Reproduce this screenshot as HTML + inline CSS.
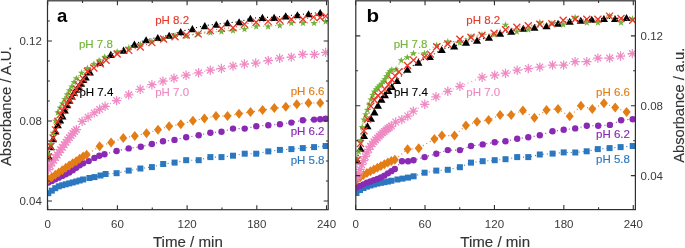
<!DOCTYPE html>
<html><head><meta charset="utf-8"><style>
html,body{margin:0;padding:0;background:#fff;}
body{width:685px;height:248px;overflow:hidden;}
svg{display:block;will-change:transform;font-family:"Liberation Sans",sans-serif;}
text{stroke:currentColor;stroke-width:0.15px;}
</style></head><body>
<svg width="685" height="248" viewBox="0 0 685 248">
<defs><clipPath id="cl"><rect x="47.5" y="0.8" width="280.7" height="208.89999999999998"/></clipPath><clipPath id="cr"><rect x="355.8" y="0.8" width="279.59999999999997" height="208.79999999999998"/></clipPath></defs>
<g clip-path="url(#cl)"><path d="M48.30 193.20L51.79 190.65L55.27 188.19L58.76 186.34L62.24 185.24L65.73 184.30L69.21 183.40L72.70 182.49L76.18 181.52L79.67 180.52L83.15 179.48L89.40 178.00L94.50 177.10L100.50 175.50L105.60 174.00L116.60 173.20L128.70 170.60L140.40 168.50L151.90 167.10L163.20 164.00L174.60 162.60L186.20 160.20L198.70 160.20L210.40 157.10L221.50 157.10L233.00 155.70L244.70 153.70L256.20 153.70L268.30 151.40L279.90 149.90L291.40 149.10L302.80 148.10L314.10 147.10L325.60 146.00" fill="none" stroke="#2b78c0" stroke-width="1.1" stroke-dasharray="1 3" stroke-linecap="butt"/>
<g fill="#2b78c0"><rect x="45.30" y="190.20" width="6.00" height="6.00"/><rect x="48.79" y="187.65" width="6.00" height="6.00"/><rect x="52.27" y="185.19" width="6.00" height="6.00"/><rect x="55.76" y="183.34" width="6.00" height="6.00"/><rect x="59.24" y="182.24" width="6.00" height="6.00"/><rect x="62.73" y="181.30" width="6.00" height="6.00"/><rect x="66.21" y="180.40" width="6.00" height="6.00"/><rect x="69.70" y="179.49" width="6.00" height="6.00"/><rect x="73.18" y="178.52" width="6.00" height="6.00"/><rect x="76.67" y="177.52" width="6.00" height="6.00"/><rect x="80.15" y="176.48" width="6.00" height="6.00"/><rect x="86.40" y="175.00" width="6.00" height="6.00"/><rect x="91.50" y="174.10" width="6.00" height="6.00"/><rect x="97.50" y="172.50" width="6.00" height="6.00"/><rect x="102.60" y="171.00" width="6.00" height="6.00"/><rect x="113.60" y="170.20" width="6.00" height="6.00"/><rect x="125.70" y="167.60" width="6.00" height="6.00"/><rect x="137.40" y="165.50" width="6.00" height="6.00"/><rect x="148.90" y="164.10" width="6.00" height="6.00"/><rect x="160.20" y="161.00" width="6.00" height="6.00"/><rect x="171.60" y="159.60" width="6.00" height="6.00"/><rect x="183.20" y="157.20" width="6.00" height="6.00"/><rect x="195.70" y="157.20" width="6.00" height="6.00"/><rect x="207.40" y="154.10" width="6.00" height="6.00"/><rect x="218.50" y="154.10" width="6.00" height="6.00"/><rect x="230.00" y="152.70" width="6.00" height="6.00"/><rect x="241.70" y="150.70" width="6.00" height="6.00"/><rect x="253.20" y="150.70" width="6.00" height="6.00"/><rect x="265.30" y="148.40" width="6.00" height="6.00"/><rect x="276.90" y="146.90" width="6.00" height="6.00"/><rect x="288.40" y="146.10" width="6.00" height="6.00"/><rect x="299.80" y="145.10" width="6.00" height="6.00"/><rect x="311.10" y="144.10" width="6.00" height="6.00"/><rect x="322.60" y="143.00" width="6.00" height="6.00"/></g>
<path d="M48.30 182.50L51.79 180.98L55.27 179.37L58.76 177.64L62.24 175.88L65.73 174.21L69.21 172.45L72.70 170.26L76.18 167.76L79.67 165.36L83.15 163.23L88.70 161.10L94.40 157.90L99.30 155.80L104.50 154.20L116.60 151.00L128.70 148.40L140.80 146.80L151.90 144.00L163.00 141.30L174.50 139.90L186.20 137.30L198.70 135.30L210.40 132.70L221.50 131.70L233.00 128.60L244.70 128.60L256.30 126.20L268.30 125.20L279.90 124.20L291.40 122.60L302.80 120.20L314.10 119.60L320.20 119.20L325.60 118.80" fill="none" stroke="#8a2ab4" stroke-width="1.1" stroke-dasharray="1 3" stroke-linecap="butt"/>
<g fill="#8a2ab4"><circle cx="48.30" cy="182.50" r="3.2"/><circle cx="51.79" cy="180.98" r="3.2"/><circle cx="55.27" cy="179.37" r="3.2"/><circle cx="58.76" cy="177.64" r="3.2"/><circle cx="62.24" cy="175.88" r="3.2"/><circle cx="65.73" cy="174.21" r="3.2"/><circle cx="69.21" cy="172.45" r="3.2"/><circle cx="72.70" cy="170.26" r="3.2"/><circle cx="76.18" cy="167.76" r="3.2"/><circle cx="79.67" cy="165.36" r="3.2"/><circle cx="83.15" cy="163.23" r="3.2"/><circle cx="88.70" cy="161.10" r="3.2"/><circle cx="94.40" cy="157.90" r="3.2"/><circle cx="99.30" cy="155.80" r="3.2"/><circle cx="104.50" cy="154.20" r="3.2"/><circle cx="116.60" cy="151.00" r="3.2"/><circle cx="128.70" cy="148.40" r="3.2"/><circle cx="140.80" cy="146.80" r="3.2"/><circle cx="151.90" cy="144.00" r="3.2"/><circle cx="163.00" cy="141.30" r="3.2"/><circle cx="174.50" cy="139.90" r="3.2"/><circle cx="186.20" cy="137.30" r="3.2"/><circle cx="198.70" cy="135.30" r="3.2"/><circle cx="210.40" cy="132.70" r="3.2"/><circle cx="221.50" cy="131.70" r="3.2"/><circle cx="233.00" cy="128.60" r="3.2"/><circle cx="244.70" cy="128.60" r="3.2"/><circle cx="256.30" cy="126.20" r="3.2"/><circle cx="268.30" cy="125.20" r="3.2"/><circle cx="279.90" cy="124.20" r="3.2"/><circle cx="291.40" cy="122.60" r="3.2"/><circle cx="302.80" cy="120.20" r="3.2"/><circle cx="314.10" cy="119.60" r="3.2"/><circle cx="320.20" cy="119.20" r="3.2"/><circle cx="325.60" cy="118.80" r="3.2"/></g>
<path d="M48.30 179.30L51.79 177.14L55.27 174.84L58.76 172.50L62.24 170.17L65.73 167.84L69.21 165.51L72.70 163.33L76.18 161.18L79.67 158.81L83.15 156.62L86.64 154.69L99.60 146.30L111.10 142.50L123.30 137.90L134.80 135.90L146.50 133.30L158.00 129.80L169.10 126.20L180.80 124.20L192.90 120.80L204.40 118.50L216.00 116.10L227.50 116.10L239.00 113.70L250.50 112.10L262.60 110.10L274.30 108.10L285.80 106.80L296.80 104.20L308.50 103.00L320.20 103.00" fill="none" stroke="#e47d16" stroke-width="1.1" stroke-dasharray="1 3" stroke-linecap="butt"/>
<g fill="#e47d16"><path d="M48.30 174.30L52.30 179.30L48.30 184.30L44.30 179.30Z"/><path d="M51.79 172.14L55.79 177.14L51.79 182.14L47.79 177.14Z"/><path d="M55.27 169.84L59.27 174.84L55.27 179.84L51.27 174.84Z"/><path d="M58.76 167.50L62.76 172.50L58.76 177.50L54.76 172.50Z"/><path d="M62.24 165.17L66.24 170.17L62.24 175.17L58.24 170.17Z"/><path d="M65.73 162.84L69.73 167.84L65.73 172.84L61.73 167.84Z"/><path d="M69.21 160.51L73.21 165.51L69.21 170.51L65.21 165.51Z"/><path d="M72.70 158.33L76.70 163.33L72.70 168.33L68.70 163.33Z"/><path d="M76.18 156.18L80.18 161.18L76.18 166.18L72.18 161.18Z"/><path d="M79.67 153.81L83.67 158.81L79.67 163.81L75.67 158.81Z"/><path d="M83.15 151.62L87.15 156.62L83.15 161.62L79.15 156.62Z"/><path d="M86.64 149.69L90.64 154.69L86.64 159.69L82.64 154.69Z"/><path d="M99.60 141.30L103.60 146.30L99.60 151.30L95.60 146.30Z"/><path d="M111.10 137.50L115.10 142.50L111.10 147.50L107.10 142.50Z"/><path d="M123.30 132.90L127.30 137.90L123.30 142.90L119.30 137.90Z"/><path d="M134.80 130.90L138.80 135.90L134.80 140.90L130.80 135.90Z"/><path d="M146.50 128.30L150.50 133.30L146.50 138.30L142.50 133.30Z"/><path d="M158.00 124.80L162.00 129.80L158.00 134.80L154.00 129.80Z"/><path d="M169.10 121.20L173.10 126.20L169.10 131.20L165.10 126.20Z"/><path d="M180.80 119.20L184.80 124.20L180.80 129.20L176.80 124.20Z"/><path d="M192.90 115.80L196.90 120.80L192.90 125.80L188.90 120.80Z"/><path d="M204.40 113.50L208.40 118.50L204.40 123.50L200.40 118.50Z"/><path d="M216.00 111.10L220.00 116.10L216.00 121.10L212.00 116.10Z"/><path d="M227.50 111.10L231.50 116.10L227.50 121.10L223.50 116.10Z"/><path d="M239.00 108.70L243.00 113.70L239.00 118.70L235.00 113.70Z"/><path d="M250.50 107.10L254.50 112.10L250.50 117.10L246.50 112.10Z"/><path d="M262.60 105.10L266.60 110.10L262.60 115.10L258.60 110.10Z"/><path d="M274.30 103.10L278.30 108.10L274.30 113.10L270.30 108.10Z"/><path d="M285.80 101.80L289.80 106.80L285.80 111.80L281.80 106.80Z"/><path d="M296.80 99.20L300.80 104.20L296.80 109.20L292.80 104.20Z"/><path d="M308.50 98.00L312.50 103.00L308.50 108.00L304.50 103.00Z"/><path d="M320.20 98.00L324.20 103.00L320.20 108.00L316.20 103.00Z"/></g>
<path d="M48.50 169.50L50.24 165.90L51.99 162.84L53.73 160.17L55.47 157.52L57.21 154.90L58.96 152.33L60.70 149.81L62.44 147.31L64.18 144.76L65.93 142.19L67.67 139.78L69.41 137.58L71.15 135.49L72.90 133.46L74.64 131.48L76.38 129.60L82.10 121.40L88.10 117.20L94.20 112.90L99.60 109.30L105.10 106.30L116.60 100.60L128.70 94.80L140.20 89.30L151.90 84.70L163.00 81.20L174.00 78.20L186.10 75.20L198.60 72.80L210.30 70.20L221.40 68.50L233.00 66.10L244.40 64.00L255.70 63.00L268.30 60.60L279.60 58.20L291.30 57.10L302.70 54.30L314.40 54.40L325.60 52.40" fill="none" stroke="#ef8ac3" stroke-width="1.1" stroke-dasharray="1 3" stroke-linecap="butt"/>
<g fill="none" stroke="#ef8ac3" stroke-width="1.25"><path d="M43.80 169.50H53.20M48.50 164.80V174.20M45.18 166.18L51.82 172.82M45.18 172.82L51.82 166.18"/><path d="M45.54 165.90H54.94M50.24 161.20V170.60M46.92 162.58L53.57 169.23M46.92 169.23L53.57 162.58"/><path d="M47.29 162.84H56.69M51.99 158.14V167.54M48.66 159.52L55.31 166.17M48.66 166.17L55.31 159.52"/><path d="M49.03 160.17H58.43M53.73 155.47V164.87M50.40 156.85L57.05 163.49M50.40 163.49L57.05 156.85"/><path d="M50.77 157.52H60.17M55.47 152.82V162.22M52.15 154.20L58.79 160.84M52.15 160.84L58.79 154.20"/><path d="M52.51 154.90H61.91M57.21 150.20V159.60M53.89 151.58L60.54 158.23M53.89 158.23L60.54 151.58"/><path d="M54.26 152.33H63.66M58.96 147.63V157.03M55.63 149.01L62.28 155.66M55.63 155.66L62.28 149.01"/><path d="M56.00 149.81H65.40M60.70 145.11V154.51M57.37 146.49L64.02 153.13M57.37 153.13L64.02 146.49"/><path d="M57.74 147.31H67.14M62.44 142.61V152.01M59.12 143.98L65.76 150.63M59.12 150.63L65.76 143.98"/><path d="M59.48 144.76H68.88M64.18 140.06V149.46M60.86 141.44L67.51 148.09M60.86 148.09L67.51 141.44"/><path d="M61.23 142.19H70.63M65.93 137.49V146.89M62.60 138.87L69.25 145.52M62.60 145.52L69.25 138.87"/><path d="M62.97 139.78H72.37M67.67 135.08V144.48M64.34 136.46L70.99 143.10M64.34 143.10L70.99 136.46"/><path d="M64.71 137.58H74.11M69.41 132.88V142.28M66.09 134.25L72.73 140.90M66.09 140.90L72.73 134.25"/><path d="M66.45 135.49H75.85M71.15 130.79V140.19M67.83 132.17L74.48 138.82M67.83 138.82L74.48 132.17"/><path d="M68.20 133.46H77.60M72.90 128.76V138.16M69.57 130.13L76.22 136.78M69.57 136.78L76.22 130.13"/><path d="M69.94 131.48H79.34M74.64 126.78V136.18M71.31 128.15L77.96 134.80M71.31 134.80L77.96 128.15"/><path d="M71.68 129.60H81.08M76.38 124.90V134.30M73.06 126.28L79.70 132.92M73.06 132.92L79.70 126.28"/><path d="M77.40 121.40H86.80M82.10 116.70V126.10M78.78 118.08L85.42 124.72M78.78 124.72L85.42 118.08"/><path d="M83.40 117.20H92.80M88.10 112.50V121.90M84.78 113.88L91.42 120.52M84.78 120.52L91.42 113.88"/><path d="M89.50 112.90H98.90M94.20 108.20V117.60M90.88 109.58L97.52 116.22M90.88 116.22L97.52 109.58"/><path d="M94.90 109.30H104.30M99.60 104.60V114.00M96.28 105.98L102.92 112.62M96.28 112.62L102.92 105.98"/><path d="M100.40 106.30H109.80M105.10 101.60V111.00M101.78 102.98L108.42 109.62M101.78 109.62L108.42 102.98"/><path d="M111.90 100.60H121.30M116.60 95.90V105.30M113.28 97.28L119.92 103.92M113.28 103.92L119.92 97.28"/><path d="M124.00 94.80H133.40M128.70 90.10V99.50M125.38 91.48L132.02 98.12M125.38 98.12L132.02 91.48"/><path d="M135.50 89.30H144.90M140.20 84.60V94.00M136.88 85.98L143.52 92.62M136.88 92.62L143.52 85.98"/><path d="M147.20 84.70H156.60M151.90 80.00V89.40M148.58 81.38L155.22 88.02M148.58 88.02L155.22 81.38"/><path d="M158.30 81.20H167.70M163.00 76.50V85.90M159.68 77.88L166.32 84.52M159.68 84.52L166.32 77.88"/><path d="M169.30 78.20H178.70M174.00 73.50V82.90M170.68 74.88L177.32 81.52M170.68 81.52L177.32 74.88"/><path d="M181.40 75.20H190.80M186.10 70.50V79.90M182.78 71.88L189.42 78.52M182.78 78.52L189.42 71.88"/><path d="M193.90 72.80H203.30M198.60 68.10V77.50M195.28 69.48L201.92 76.12M195.28 76.12L201.92 69.48"/><path d="M205.60 70.20H215.00M210.30 65.50V74.90M206.98 66.88L213.62 73.52M206.98 73.52L213.62 66.88"/><path d="M216.70 68.50H226.10M221.40 63.80V73.20M218.08 65.18L224.72 71.82M218.08 71.82L224.72 65.18"/><path d="M228.30 66.10H237.70M233.00 61.40V70.80M229.68 62.78L236.32 69.42M229.68 69.42L236.32 62.78"/><path d="M239.70 64.00H249.10M244.40 59.30V68.70M241.08 60.68L247.72 67.32M241.08 67.32L247.72 60.68"/><path d="M251.00 63.00H260.40M255.70 58.30V67.70M252.38 59.68L259.02 66.32M252.38 66.32L259.02 59.68"/><path d="M263.60 60.60H273.00M268.30 55.90V65.30M264.98 57.28L271.62 63.92M264.98 63.92L271.62 57.28"/><path d="M274.90 58.20H284.30M279.60 53.50V62.90M276.28 54.88L282.92 61.52M276.28 61.52L282.92 54.88"/><path d="M286.60 57.10H296.00M291.30 52.40V61.80M287.98 53.78L294.62 60.42M287.98 60.42L294.62 53.78"/><path d="M298.00 54.30H307.40M302.70 49.60V59.00M299.38 50.98L306.02 57.62M299.38 57.62L306.02 50.98"/><path d="M309.70 54.40H319.10M314.40 49.70V59.10M311.08 51.08L317.72 57.72M311.08 57.72L317.72 51.08"/><path d="M320.90 52.40H330.30M325.60 47.70V57.10M322.28 49.08L328.92 55.72M322.28 55.72L328.92 49.08"/></g>
<path d="M48.50 156.00L50.82 146.79L53.15 138.58L55.47 130.98L57.79 124.73L60.12 119.87L62.44 115.92L64.76 110.01L67.09 104.77L69.41 100.23L71.73 96.07L74.06 92.38L76.38 89.15L78.70 86.48L81.03 83.12L83.35 79.55L85.67 76.93L89.80 71.90L99.70 62.50L110.80 54.40L123.60 50.10L134.40 44.10L146.10 39.70L157.80 37.50L169.20 35.30L180.70 31.60L192.40 28.60L204.80 25.60L216.30 24.20L227.40 22.80L239.10 21.80L250.40 18.30L262.40 17.40L274.10 17.40L285.70 15.90L297.40 14.80L308.50 13.70L320.20 12.50" fill="none" stroke="#000000" stroke-width="1.1" stroke-dasharray="1 3" stroke-linecap="butt"/>
<g fill="#000000"><path d="M48.50 152.45L52.60 159.55L44.40 159.55Z"/><path d="M50.82 143.24L54.92 150.34L46.72 150.34Z"/><path d="M53.15 135.03L57.25 142.13L49.05 142.13Z"/><path d="M55.47 127.43L59.57 134.53L51.37 134.53Z"/><path d="M57.79 121.18L61.89 128.28L53.69 128.28Z"/><path d="M60.12 116.32L64.22 123.42L56.02 123.42Z"/><path d="M62.44 112.37L66.54 119.47L58.34 119.47Z"/><path d="M64.76 106.46L68.86 113.56L60.66 113.56Z"/><path d="M67.09 101.22L71.19 108.32L62.99 108.32Z"/><path d="M69.41 96.68L73.51 103.78L65.31 103.78Z"/><path d="M71.73 92.52L75.83 99.62L67.63 99.62Z"/><path d="M74.06 88.83L78.16 95.93L69.96 95.93Z"/><path d="M76.38 85.60L80.48 92.70L72.28 92.70Z"/><path d="M78.70 82.93L82.80 90.03L74.60 90.03Z"/><path d="M81.03 79.57L85.13 86.67L76.93 86.67Z"/><path d="M83.35 76.00L87.45 83.10L79.25 83.10Z"/><path d="M85.67 73.38L89.77 80.48L81.57 80.48Z"/><path d="M89.80 68.35L93.90 75.45L85.70 75.45Z"/><path d="M99.70 58.95L103.80 66.05L95.60 66.05Z"/><path d="M110.80 50.85L114.90 57.95L106.70 57.95Z"/><path d="M123.60 46.55L127.70 53.65L119.50 53.65Z"/><path d="M134.40 40.55L138.50 47.65L130.30 47.65Z"/><path d="M146.10 36.15L150.20 43.25L142.00 43.25Z"/><path d="M157.80 33.95L161.90 41.05L153.70 41.05Z"/><path d="M169.20 31.75L173.30 38.85L165.10 38.85Z"/><path d="M180.70 28.05L184.80 35.15L176.60 35.15Z"/><path d="M192.40 25.05L196.50 32.15L188.30 32.15Z"/><path d="M204.80 22.05L208.90 29.15L200.70 29.15Z"/><path d="M216.30 20.65L220.40 27.75L212.20 27.75Z"/><path d="M227.40 19.25L231.50 26.35L223.30 26.35Z"/><path d="M239.10 18.25L243.20 25.35L235.00 25.35Z"/><path d="M250.40 14.75L254.50 21.85L246.30 21.85Z"/><path d="M262.40 13.85L266.50 20.95L258.30 20.95Z"/><path d="M274.10 13.85L278.20 20.95L270.00 20.95Z"/><path d="M285.70 12.35L289.80 19.45L281.60 19.45Z"/><path d="M297.40 11.25L301.50 18.35L293.30 18.35Z"/><path d="M308.50 10.15L312.60 17.25L304.40 17.25Z"/><path d="M320.20 8.95L324.30 16.05L316.10 16.05Z"/></g>
<path d="M48.50 154.00L50.82 143.83L53.15 132.62L55.47 120.45L57.79 112.21L60.12 107.46L62.44 103.23L64.76 98.90L67.09 94.21L69.41 90.19L71.73 86.39L74.06 81.90L76.38 78.10L81.60 72.50L87.40 67.80L93.90 63.70L99.10 60.20L104.70 56.70L117.10 51.40L128.80 47.50L140.30 44.10L151.90 41.20L163.60 38.70L175.00 35.30L186.20 35.80L198.20 33.80L210.30 32.30L221.40 31.30L233.00 30.20L244.50 28.80L256.20 26.20L268.10 26.20L279.80 25.20L291.30 22.80L303.00 22.80L314.10 22.80L325.60 21.20" fill="none" stroke="#72b43a" stroke-width="1.1" stroke-dasharray="1 3" stroke-linecap="butt"/>
<g fill="#72b43a"><path d="M48.50 150.60L49.41 153.15L52.11 153.23L49.97 154.88L50.73 157.47L48.50 155.95L46.27 157.47L47.03 154.88L44.89 153.23L47.59 153.15Z"/><path d="M50.82 140.43L51.73 142.98L54.44 143.06L52.30 144.71L53.06 147.31L50.82 145.78L48.59 147.31L49.35 144.71L47.21 143.06L49.91 142.98Z"/><path d="M53.15 129.22L54.06 131.77L56.76 131.85L54.62 133.50L55.38 136.10L53.15 134.57L50.91 136.10L51.67 133.50L49.53 131.85L52.24 131.77Z"/><path d="M55.47 117.05L56.38 119.60L59.08 119.68L56.94 121.33L57.70 123.92L55.47 122.40L53.24 123.92L54.00 121.33L51.86 119.68L54.56 119.60Z"/><path d="M57.79 108.81L58.70 111.35L61.41 111.43L59.27 113.09L60.03 115.68L57.79 114.16L55.56 115.68L56.32 113.09L54.18 111.43L56.88 111.35Z"/><path d="M60.12 104.06L61.03 106.61L63.73 106.69L61.59 108.34L62.35 110.94L60.12 109.41L57.88 110.94L58.64 108.34L56.50 106.69L59.21 106.61Z"/><path d="M62.44 99.83L63.35 102.37L66.05 102.45L63.91 104.11L64.67 106.70L62.44 105.18L60.21 106.70L60.97 104.11L58.83 102.45L61.53 102.37Z"/><path d="M64.76 95.50L65.67 98.05L68.38 98.13L66.24 99.78L67.00 102.38L64.76 100.85L62.53 102.38L63.29 99.78L61.15 98.13L63.85 98.05Z"/><path d="M67.09 90.81L68.00 93.36L70.70 93.44L68.56 95.09L69.32 97.68L67.09 96.16L64.85 97.68L65.61 95.09L63.47 93.44L66.18 93.36Z"/><path d="M69.41 86.79L70.32 89.34L73.02 89.42L70.88 91.07L71.64 93.67L69.41 92.14L67.18 93.67L67.94 91.07L65.80 89.42L68.50 89.34Z"/><path d="M71.73 82.99L72.65 85.54L75.35 85.62L73.21 87.27L73.97 89.87L71.73 88.34L69.50 89.87L70.26 87.27L68.12 85.62L70.82 85.54Z"/><path d="M74.06 78.50L74.97 81.04L77.67 81.12L75.53 82.78L76.29 85.37L74.06 83.85L71.82 85.37L72.58 82.78L70.44 81.12L73.15 81.04Z"/><path d="M76.38 74.70L77.29 77.25L79.99 77.32L77.85 78.98L78.61 81.57L76.38 80.05L74.15 81.57L74.91 78.98L72.77 77.32L75.47 77.25Z"/><path d="M81.60 69.10L82.51 71.65L85.21 71.73L83.07 73.38L83.83 75.97L81.60 74.45L79.37 75.97L80.13 73.38L77.99 71.73L80.69 71.65Z"/><path d="M87.40 64.40L88.31 66.95L91.01 67.03L88.87 68.68L89.63 71.27L87.40 69.75L85.17 71.27L85.93 68.68L83.79 67.03L86.49 66.95Z"/><path d="M93.90 60.30L94.81 62.85L97.51 62.93L95.37 64.58L96.13 67.17L93.90 65.65L91.67 67.17L92.43 64.58L90.29 62.93L92.99 62.85Z"/><path d="M99.10 56.80L100.01 59.35L102.71 59.43L100.57 61.08L101.33 63.67L99.10 62.15L96.87 63.67L97.63 61.08L95.49 59.43L98.19 59.35Z"/><path d="M104.70 53.30L105.61 55.85L108.31 55.93L106.17 57.58L106.93 60.17L104.70 58.65L102.47 60.17L103.23 57.58L101.09 55.93L103.79 55.85Z"/><path d="M117.10 48.00L118.01 50.55L120.71 50.63L118.57 52.28L119.33 54.87L117.10 53.35L114.87 54.87L115.63 52.28L113.49 50.63L116.19 50.55Z"/><path d="M128.80 44.10L129.71 46.65L132.41 46.73L130.27 48.38L131.03 50.97L128.80 49.45L126.57 50.97L127.33 48.38L125.19 46.73L127.89 46.65Z"/><path d="M140.30 40.70L141.21 43.25L143.91 43.33L141.77 44.98L142.53 47.57L140.30 46.05L138.07 47.57L138.83 44.98L136.69 43.33L139.39 43.25Z"/><path d="M151.90 37.80L152.81 40.35L155.51 40.43L153.37 42.08L154.13 44.67L151.90 43.15L149.67 44.67L150.43 42.08L148.29 40.43L150.99 40.35Z"/><path d="M163.60 35.30L164.51 37.85L167.21 37.93L165.07 39.58L165.83 42.17L163.60 40.65L161.37 42.17L162.13 39.58L159.99 37.93L162.69 37.85Z"/><path d="M175.00 31.90L175.91 34.45L178.61 34.53L176.47 36.18L177.23 38.77L175.00 37.25L172.77 38.77L173.53 36.18L171.39 34.53L174.09 34.45Z"/><path d="M186.20 32.40L187.11 34.95L189.81 35.03L187.67 36.68L188.43 39.27L186.20 37.75L183.97 39.27L184.73 36.68L182.59 35.03L185.29 34.95Z"/><path d="M198.20 30.40L199.11 32.95L201.81 33.03L199.67 34.68L200.43 37.27L198.20 35.75L195.97 37.27L196.73 34.68L194.59 33.03L197.29 32.95Z"/><path d="M210.30 28.90L211.21 31.45L213.91 31.53L211.77 33.18L212.53 35.77L210.30 34.25L208.07 35.77L208.83 33.18L206.69 31.53L209.39 31.45Z"/><path d="M221.40 27.90L222.31 30.45L225.01 30.53L222.87 32.18L223.63 34.77L221.40 33.25L219.17 34.77L219.93 32.18L217.79 30.53L220.49 30.45Z"/><path d="M233.00 26.80L233.91 29.35L236.61 29.43L234.47 31.08L235.23 33.67L233.00 32.15L230.77 33.67L231.53 31.08L229.39 29.43L232.09 29.35Z"/><path d="M244.50 25.40L245.41 27.95L248.11 28.03L245.97 29.68L246.73 32.27L244.50 30.75L242.27 32.27L243.03 29.68L240.89 28.03L243.59 27.95Z"/><path d="M256.20 22.80L257.11 25.35L259.81 25.43L257.67 27.08L258.43 29.67L256.20 28.15L253.97 29.67L254.73 27.08L252.59 25.43L255.29 25.35Z"/><path d="M268.10 22.80L269.01 25.35L271.71 25.43L269.57 27.08L270.33 29.67L268.10 28.15L265.87 29.67L266.63 27.08L264.49 25.43L267.19 25.35Z"/><path d="M279.80 21.80L280.71 24.35L283.41 24.43L281.27 26.08L282.03 28.67L279.80 27.15L277.57 28.67L278.33 26.08L276.19 24.43L278.89 24.35Z"/><path d="M291.30 19.40L292.21 21.95L294.91 22.03L292.77 23.68L293.53 26.27L291.30 24.75L289.07 26.27L289.83 23.68L287.69 22.03L290.39 21.95Z"/><path d="M303.00 19.40L303.91 21.95L306.61 22.03L304.47 23.68L305.23 26.27L303.00 24.75L300.77 26.27L301.53 23.68L299.39 22.03L302.09 21.95Z"/><path d="M314.10 19.40L315.01 21.95L317.71 22.03L315.57 23.68L316.33 26.27L314.10 24.75L311.87 26.27L312.63 23.68L310.49 22.03L313.19 21.95Z"/><path d="M325.60 17.80L326.51 20.35L329.21 20.43L327.07 22.08L327.83 24.67L325.60 23.15L323.37 24.67L324.13 22.08L321.99 20.43L324.69 20.35Z"/></g>
<path d="M48.50 157.00L50.82 146.56L53.15 137.97L55.47 129.91L57.79 121.40L60.12 114.64L62.44 110.60L64.76 106.89L67.09 103.35L69.41 99.89L71.73 96.32L74.06 92.69L76.38 89.04L78.70 85.51L81.03 82.12L83.35 78.72L87.40 71.30L93.90 68.00L100.30 63.70L106.10 60.20L117.20 54.00L128.80 50.40L140.30 47.00L151.90 42.60L163.60 39.00L175.00 36.80L186.20 35.00L198.20 33.90L210.30 30.60L221.40 28.40L233.00 27.80L244.50 24.20L256.10 22.20L268.10 21.40L279.80 20.20L291.30 19.20L302.90 19.20L313.50 17.10L320.20 17.50L325.60 16.10" fill="none" stroke="#e8392a" stroke-width="1.1" stroke-dasharray="1 3" stroke-linecap="butt"/>
<g fill="none" stroke="#e8392a" stroke-width="1.3"><path d="M45.00 153.50L52.00 160.50M45.00 160.50L52.00 153.50"/><path d="M47.32 143.06L54.32 150.06M47.32 150.06L54.32 143.06"/><path d="M49.65 134.47L56.65 141.47M49.65 141.47L56.65 134.47"/><path d="M51.97 126.41L58.97 133.41M51.97 133.41L58.97 126.41"/><path d="M54.29 117.90L61.29 124.90M54.29 124.90L61.29 117.90"/><path d="M56.62 111.14L63.62 118.14M56.62 118.14L63.62 111.14"/><path d="M58.94 107.10L65.94 114.10M58.94 114.10L65.94 107.10"/><path d="M61.26 103.39L68.26 110.39M61.26 110.39L68.26 103.39"/><path d="M63.59 99.85L70.59 106.85M63.59 106.85L70.59 99.85"/><path d="M65.91 96.39L72.91 103.39M65.91 103.39L72.91 96.39"/><path d="M68.23 92.82L75.23 99.82M68.23 99.82L75.23 92.82"/><path d="M70.56 89.19L77.56 96.19M70.56 96.19L77.56 89.19"/><path d="M72.88 85.54L79.88 92.54M72.88 92.54L79.88 85.54"/><path d="M75.20 82.01L82.20 89.01M75.20 89.01L82.20 82.01"/><path d="M77.53 78.62L84.53 85.62M77.53 85.62L84.53 78.62"/><path d="M79.85 75.22L86.85 82.22M79.85 82.22L86.85 75.22"/><path d="M83.90 67.80L90.90 74.80M83.90 74.80L90.90 67.80"/><path d="M90.40 64.50L97.40 71.50M90.40 71.50L97.40 64.50"/><path d="M96.80 60.20L103.80 67.20M96.80 67.20L103.80 60.20"/><path d="M102.60 56.70L109.60 63.70M102.60 63.70L109.60 56.70"/><path d="M113.70 50.50L120.70 57.50M113.70 57.50L120.70 50.50"/><path d="M125.30 46.90L132.30 53.90M125.30 53.90L132.30 46.90"/><path d="M136.80 43.50L143.80 50.50M136.80 50.50L143.80 43.50"/><path d="M148.40 39.10L155.40 46.10M148.40 46.10L155.40 39.10"/><path d="M160.10 35.50L167.10 42.50M160.10 42.50L167.10 35.50"/><path d="M171.50 33.30L178.50 40.30M171.50 40.30L178.50 33.30"/><path d="M182.70 31.50L189.70 38.50M182.70 38.50L189.70 31.50"/><path d="M194.70 30.40L201.70 37.40M194.70 37.40L201.70 30.40"/><path d="M206.80 27.10L213.80 34.10M206.80 34.10L213.80 27.10"/><path d="M217.90 24.90L224.90 31.90M217.90 31.90L224.90 24.90"/><path d="M229.50 24.30L236.50 31.30M229.50 31.30L236.50 24.30"/><path d="M241.00 20.70L248.00 27.70M241.00 27.70L248.00 20.70"/><path d="M252.60 18.70L259.60 25.70M252.60 25.70L259.60 18.70"/><path d="M264.60 17.90L271.60 24.90M264.60 24.90L271.60 17.90"/><path d="M276.30 16.70L283.30 23.70M276.30 23.70L283.30 16.70"/><path d="M287.80 15.70L294.80 22.70M287.80 22.70L294.80 15.70"/><path d="M299.40 15.70L306.40 22.70M299.40 22.70L306.40 15.70"/><path d="M310.00 13.60L317.00 20.60M310.00 20.60L317.00 13.60"/><path d="M316.70 14.00L323.70 21.00M316.70 21.00L323.70 14.00"/><path d="M322.10 12.60L329.10 19.60M322.10 19.60L329.10 12.60"/></g></g>
<g clip-path="url(#cr)"><path d="M356.50 193.00L359.99 190.01L363.47 188.09L366.96 186.63L370.44 185.46L373.93 184.46L377.41 183.58L380.90 182.81L384.38 182.18L387.87 181.53L391.35 180.75L397.40 179.50L402.50 178.60L408.00 177.60L413.60 176.30L424.60 172.70L436.30 170.60L447.80 169.80L459.90 167.20L471.00 162.60L482.70 161.20L494.70 160.20L505.50 159.20L517.20 157.10L528.30 157.10L539.80 154.50L552.60 153.60L563.70 152.40L575.30 152.50L586.70 151.30L597.80 149.10L609.60 148.10L620.60 147.10L632.70 146.00" fill="none" stroke="#2b78c0" stroke-width="1.1" stroke-dasharray="1 3" stroke-linecap="butt"/>
<g fill="#2b78c0"><rect x="353.50" y="190.00" width="6.00" height="6.00"/><rect x="356.99" y="187.01" width="6.00" height="6.00"/><rect x="360.47" y="185.09" width="6.00" height="6.00"/><rect x="363.96" y="183.63" width="6.00" height="6.00"/><rect x="367.44" y="182.46" width="6.00" height="6.00"/><rect x="370.93" y="181.46" width="6.00" height="6.00"/><rect x="374.41" y="180.58" width="6.00" height="6.00"/><rect x="377.90" y="179.81" width="6.00" height="6.00"/><rect x="381.38" y="179.18" width="6.00" height="6.00"/><rect x="384.87" y="178.53" width="6.00" height="6.00"/><rect x="388.35" y="177.75" width="6.00" height="6.00"/><rect x="394.40" y="176.50" width="6.00" height="6.00"/><rect x="399.50" y="175.60" width="6.00" height="6.00"/><rect x="405.00" y="174.60" width="6.00" height="6.00"/><rect x="410.60" y="173.30" width="6.00" height="6.00"/><rect x="421.60" y="169.70" width="6.00" height="6.00"/><rect x="433.30" y="167.60" width="6.00" height="6.00"/><rect x="444.80" y="166.80" width="6.00" height="6.00"/><rect x="456.90" y="164.20" width="6.00" height="6.00"/><rect x="468.00" y="159.60" width="6.00" height="6.00"/><rect x="479.70" y="158.20" width="6.00" height="6.00"/><rect x="491.70" y="157.20" width="6.00" height="6.00"/><rect x="502.50" y="156.20" width="6.00" height="6.00"/><rect x="514.20" y="154.10" width="6.00" height="6.00"/><rect x="525.30" y="154.10" width="6.00" height="6.00"/><rect x="536.80" y="151.50" width="6.00" height="6.00"/><rect x="549.60" y="150.60" width="6.00" height="6.00"/><rect x="560.70" y="149.40" width="6.00" height="6.00"/><rect x="572.30" y="149.50" width="6.00" height="6.00"/><rect x="583.70" y="148.30" width="6.00" height="6.00"/><rect x="594.80" y="146.10" width="6.00" height="6.00"/><rect x="606.60" y="145.10" width="6.00" height="6.00"/><rect x="617.60" y="144.10" width="6.00" height="6.00"/><rect x="629.70" y="143.00" width="6.00" height="6.00"/></g>
<path d="M356.50 187.50L359.99 185.91L363.47 184.34L366.96 182.78L370.44 181.33L373.93 180.12L377.41 178.95L380.90 177.52L384.38 175.58L387.87 173.35L391.35 171.17L394.84 169.00L402.00 161.20L408.10 161.20L413.50 160.20L424.60 157.10L436.30 153.70L447.80 150.10L459.90 150.10L471.00 146.00L482.70 144.40L494.70 142.30L505.50 141.30L517.20 138.70L528.30 137.30L539.80 135.30L552.50 131.30L563.70 129.80L575.20 128.40L586.80 125.80L598.20 125.80L609.90 124.90L621.10 120.20L632.70 119.20" fill="none" stroke="#8a2ab4" stroke-width="1.1" stroke-dasharray="1 3" stroke-linecap="butt"/>
<g fill="#8a2ab4"><circle cx="356.50" cy="187.50" r="3.2"/><circle cx="359.99" cy="185.91" r="3.2"/><circle cx="363.47" cy="184.34" r="3.2"/><circle cx="366.96" cy="182.78" r="3.2"/><circle cx="370.44" cy="181.33" r="3.2"/><circle cx="373.93" cy="180.12" r="3.2"/><circle cx="377.41" cy="178.95" r="3.2"/><circle cx="380.90" cy="177.52" r="3.2"/><circle cx="384.38" cy="175.58" r="3.2"/><circle cx="387.87" cy="173.35" r="3.2"/><circle cx="391.35" cy="171.17" r="3.2"/><circle cx="394.84" cy="169.00" r="3.2"/><circle cx="402.00" cy="161.20" r="3.2"/><circle cx="408.10" cy="161.20" r="3.2"/><circle cx="413.50" cy="160.20" r="3.2"/><circle cx="424.60" cy="157.10" r="3.2"/><circle cx="436.30" cy="153.70" r="3.2"/><circle cx="447.80" cy="150.10" r="3.2"/><circle cx="459.90" cy="150.10" r="3.2"/><circle cx="471.00" cy="146.00" r="3.2"/><circle cx="482.70" cy="144.40" r="3.2"/><circle cx="494.70" cy="142.30" r="3.2"/><circle cx="505.50" cy="141.30" r="3.2"/><circle cx="517.20" cy="138.70" r="3.2"/><circle cx="528.30" cy="137.30" r="3.2"/><circle cx="539.80" cy="135.30" r="3.2"/><circle cx="552.50" cy="131.30" r="3.2"/><circle cx="563.70" cy="129.80" r="3.2"/><circle cx="575.20" cy="128.40" r="3.2"/><circle cx="586.80" cy="125.80" r="3.2"/><circle cx="598.20" cy="125.80" r="3.2"/><circle cx="609.90" cy="124.90" r="3.2"/><circle cx="621.10" cy="120.20" r="3.2"/><circle cx="632.70" cy="119.20" r="3.2"/></g>
<path d="M356.50 180.00L359.99 177.51L363.47 175.09L366.96 172.97L370.44 171.26L373.93 169.54L377.41 167.79L380.90 166.05L384.38 164.31L387.87 162.50L391.35 160.95L394.84 159.68L407.60 149.20L418.70 148.20L434.40 139.10L441.90 135.60L454.50 135.60L465.90 125.40L477.00 121.80L488.60 120.00L500.10 115.10L511.20 115.10L522.90 110.50L534.40 117.70L546.50 110.10L558.00 109.10L569.70 116.30L580.90 105.80L592.30 109.10L603.90 103.30L615.20 107.40L626.60 112.10" fill="none" stroke="#e47d16" stroke-width="1.1" stroke-dasharray="1 3" stroke-linecap="butt"/>
<g fill="#e47d16"><path d="M356.50 175.00L360.50 180.00L356.50 185.00L352.50 180.00Z"/><path d="M359.99 172.51L363.99 177.51L359.99 182.51L355.99 177.51Z"/><path d="M363.47 170.09L367.47 175.09L363.47 180.09L359.47 175.09Z"/><path d="M366.96 167.97L370.96 172.97L366.96 177.97L362.96 172.97Z"/><path d="M370.44 166.26L374.44 171.26L370.44 176.26L366.44 171.26Z"/><path d="M373.93 164.54L377.93 169.54L373.93 174.54L369.93 169.54Z"/><path d="M377.41 162.79L381.41 167.79L377.41 172.79L373.41 167.79Z"/><path d="M380.90 161.05L384.90 166.05L380.90 171.05L376.90 166.05Z"/><path d="M384.38 159.31L388.38 164.31L384.38 169.31L380.38 164.31Z"/><path d="M387.87 157.50L391.87 162.50L387.87 167.50L383.87 162.50Z"/><path d="M391.35 155.95L395.35 160.95L391.35 165.95L387.35 160.95Z"/><path d="M394.84 154.68L398.84 159.68L394.84 164.68L390.84 159.68Z"/><path d="M407.60 144.20L411.60 149.20L407.60 154.20L403.60 149.20Z"/><path d="M418.70 143.20L422.70 148.20L418.70 153.20L414.70 148.20Z"/><path d="M434.40 134.10L438.40 139.10L434.40 144.10L430.40 139.10Z"/><path d="M441.90 130.60L445.90 135.60L441.90 140.60L437.90 135.60Z"/><path d="M454.50 130.60L458.50 135.60L454.50 140.60L450.50 135.60Z"/><path d="M465.90 120.40L469.90 125.40L465.90 130.40L461.90 125.40Z"/><path d="M477.00 116.80L481.00 121.80L477.00 126.80L473.00 121.80Z"/><path d="M488.60 115.00L492.60 120.00L488.60 125.00L484.60 120.00Z"/><path d="M500.10 110.10L504.10 115.10L500.10 120.10L496.10 115.10Z"/><path d="M511.20 110.10L515.20 115.10L511.20 120.10L507.20 115.10Z"/><path d="M522.90 105.50L526.90 110.50L522.90 115.50L518.90 110.50Z"/><path d="M534.40 112.70L538.40 117.70L534.40 122.70L530.40 117.70Z"/><path d="M546.50 105.10L550.50 110.10L546.50 115.10L542.50 110.10Z"/><path d="M558.00 104.10L562.00 109.10L558.00 114.10L554.00 109.10Z"/><path d="M569.70 111.30L573.70 116.30L569.70 121.30L565.70 116.30Z"/><path d="M580.90 100.80L584.90 105.80L580.90 110.80L576.90 105.80Z"/><path d="M592.30 104.10L596.30 109.10L592.30 114.10L588.30 109.10Z"/><path d="M603.90 98.30L607.90 103.30L603.90 108.30L599.90 103.30Z"/><path d="M615.20 102.40L619.20 107.40L615.20 112.40L611.20 107.40Z"/><path d="M626.60 107.10L630.60 112.10L626.60 117.10L622.60 112.10Z"/></g>
<path d="M356.50 178.00L358.24 173.88L359.99 169.39L361.73 164.68L363.47 160.53L365.21 156.68L366.96 152.95L368.70 149.31L370.44 146.33L372.18 143.93L373.93 141.82L375.67 139.87L377.41 137.97L379.15 136.20L380.90 134.52L382.64 132.93L384.38 131.42L386.12 129.99L387.87 128.61L389.61 127.29L391.35 126.01L395.70 122.00L401.80 119.60L407.80 116.00L413.30 111.10L424.80 104.30L436.00 96.80L447.80 91.30L459.90 86.30L482.10 77.20L494.70 75.20L505.50 73.20L517.20 70.20L528.30 68.50L539.80 67.10L552.50 65.10L563.60 65.10L575.10 61.70L586.80 61.70L597.90 58.10L609.60 58.10L620.50 56.00L632.30 53.60" fill="none" stroke="#ef8ac3" stroke-width="1.1" stroke-dasharray="1 3" stroke-linecap="butt"/>
<g fill="none" stroke="#ef8ac3" stroke-width="1.25"><path d="M351.80 178.00H361.20M356.50 173.30V182.70M353.18 174.68L359.82 181.32M353.18 181.32L359.82 174.68"/><path d="M353.54 173.88H362.94M358.24 169.18V178.58M354.92 170.56L361.57 177.21M354.92 177.21L361.57 170.56"/><path d="M355.29 169.39H364.69M359.99 164.69V174.09M356.66 166.07L363.31 172.71M356.66 172.71L363.31 166.07"/><path d="M357.03 164.68H366.43M361.73 159.98V169.38M358.40 161.36L365.05 168.00M358.40 168.00L365.05 161.36"/><path d="M358.77 160.53H368.17M363.47 155.83V165.23M360.15 157.21L366.79 163.85M360.15 163.85L366.79 157.21"/><path d="M360.51 156.68H369.91M365.21 151.98V161.38M361.89 153.36L368.54 160.00M361.89 160.00L368.54 153.36"/><path d="M362.26 152.95H371.66M366.96 148.25V157.65M363.63 149.62L370.28 156.27M363.63 156.27L370.28 149.62"/><path d="M364.00 149.31H373.40M368.70 144.61V154.01M365.37 145.99L372.02 152.63M365.37 152.63L372.02 145.99"/><path d="M365.74 146.33H375.14M370.44 141.63V151.03M367.12 143.00L373.76 149.65M367.12 149.65L373.76 143.00"/><path d="M367.48 143.93H376.88M372.18 139.23V148.63M368.86 140.60L375.51 147.25M368.86 147.25L375.51 140.60"/><path d="M369.23 141.82H378.63M373.93 137.12V146.52M370.60 138.50L377.25 145.15M370.60 145.15L377.25 138.50"/><path d="M370.97 139.87H380.37M375.67 135.17V144.57M372.34 136.55L378.99 143.19M372.34 143.19L378.99 136.55"/><path d="M372.71 137.97H382.11M377.41 133.27V142.67M374.09 134.65L380.73 141.30M374.09 141.30L380.73 134.65"/><path d="M374.45 136.20H383.85M379.15 131.50V140.90M375.83 132.87L382.48 139.52M375.83 139.52L382.48 132.87"/><path d="M376.20 134.52H385.60M380.90 129.82V139.22M377.57 131.20L384.22 137.84M377.57 137.84L384.22 131.20"/><path d="M377.94 132.93H387.34M382.64 128.23V137.63M379.31 129.60L385.96 136.25M379.31 136.25L385.96 129.60"/><path d="M379.68 131.42H389.08M384.38 126.72V136.12M381.06 128.10L387.70 134.75M381.06 134.75L387.70 128.10"/><path d="M381.42 129.99H390.82M386.12 125.29V134.69M382.80 126.67L389.45 133.32M382.80 133.32L389.45 126.67"/><path d="M383.17 128.61H392.57M387.87 123.91V133.31M384.54 125.28L391.19 131.93M384.54 131.93L391.19 125.28"/><path d="M384.91 127.29H394.31M389.61 122.59V131.99M386.29 123.97L392.93 130.62M386.29 130.62L392.93 123.97"/><path d="M386.65 126.01H396.05M391.35 121.31V130.71M388.03 122.69L394.67 129.33M388.03 129.33L394.67 122.69"/><path d="M391.00 122.00H400.40M395.70 117.30V126.70M392.38 118.68L399.02 125.32M392.38 125.32L399.02 118.68"/><path d="M397.10 119.60H406.50M401.80 114.90V124.30M398.48 116.28L405.12 122.92M398.48 122.92L405.12 116.28"/><path d="M403.10 116.00H412.50M407.80 111.30V120.70M404.48 112.68L411.12 119.32M404.48 119.32L411.12 112.68"/><path d="M408.60 111.10H418.00M413.30 106.40V115.80M409.98 107.78L416.62 114.42M409.98 114.42L416.62 107.78"/><path d="M420.10 104.30H429.50M424.80 99.60V109.00M421.48 100.98L428.12 107.62M421.48 107.62L428.12 100.98"/><path d="M431.30 96.80H440.70M436.00 92.10V101.50M432.68 93.48L439.32 100.12M432.68 100.12L439.32 93.48"/><path d="M443.10 91.30H452.50M447.80 86.60V96.00M444.48 87.98L451.12 94.62M444.48 94.62L451.12 87.98"/><path d="M455.20 86.30H464.60M459.90 81.60V91.00M456.58 82.98L463.22 89.62M456.58 89.62L463.22 82.98"/><path d="M477.40 77.20H486.80M482.10 72.50V81.90M478.78 73.88L485.42 80.52M478.78 80.52L485.42 73.88"/><path d="M490.00 75.20H499.40M494.70 70.50V79.90M491.38 71.88L498.02 78.52M491.38 78.52L498.02 71.88"/><path d="M500.80 73.20H510.20M505.50 68.50V77.90M502.18 69.88L508.82 76.52M502.18 76.52L508.82 69.88"/><path d="M512.50 70.20H521.90M517.20 65.50V74.90M513.88 66.88L520.52 73.52M513.88 73.52L520.52 66.88"/><path d="M523.60 68.50H533.00M528.30 63.80V73.20M524.98 65.18L531.62 71.82M524.98 71.82L531.62 65.18"/><path d="M535.10 67.10H544.50M539.80 62.40V71.80M536.48 63.78L543.12 70.42M536.48 70.42L543.12 63.78"/><path d="M547.80 65.10H557.20M552.50 60.40V69.80M549.18 61.78L555.82 68.42M549.18 68.42L555.82 61.78"/><path d="M558.90 65.10H568.30M563.60 60.40V69.80M560.28 61.78L566.92 68.42M560.28 68.42L566.92 61.78"/><path d="M570.40 61.70H579.80M575.10 57.00V66.40M571.78 58.38L578.42 65.02M571.78 65.02L578.42 58.38"/><path d="M582.10 61.70H591.50M586.80 57.00V66.40M583.48 58.38L590.12 65.02M583.48 65.02L590.12 58.38"/><path d="M593.20 58.10H602.60M597.90 53.40V62.80M594.58 54.78L601.22 61.42M594.58 61.42L601.22 54.78"/><path d="M604.90 58.10H614.30M609.60 53.40V62.80M606.28 54.78L612.92 61.42M606.28 61.42L612.92 54.78"/><path d="M615.80 56.00H625.20M620.50 51.30V60.70M617.18 52.68L623.82 59.32M617.18 59.32L623.82 52.68"/><path d="M627.60 53.60H637.00M632.30 48.90V58.30M628.98 50.28L635.62 56.92M628.98 56.92L635.62 50.28"/></g>
<path d="M357.00 160.00L360.49 148.12L363.97 135.38L367.46 125.73L370.94 118.21L374.43 111.92L377.91 105.08L381.40 99.13L384.88 94.59L388.37 90.44L391.85 86.45L397.10 80.50L407.40 69.20L418.40 62.10L429.80 56.50L441.70 49.50L454.20 46.00L466.00 42.30L477.00 40.30L489.00 37.30L500.10 33.30L511.20 31.30L523.30 28.20L534.40 27.20L546.50 25.80L558.00 23.20L569.70 21.20L580.80 20.20L591.80 19.20L603.90 18.50L615.00 18.50L626.50 17.50" fill="none" stroke="#000000" stroke-width="1.1" stroke-dasharray="1 3" stroke-linecap="butt"/>
<g fill="#000000"><path d="M357.00 156.45L361.10 163.55L352.90 163.55Z"/><path d="M360.49 144.57L364.59 151.67L356.39 151.67Z"/><path d="M363.97 131.83L368.07 138.93L359.87 138.93Z"/><path d="M367.46 122.18L371.56 129.28L363.36 129.28Z"/><path d="M370.94 114.66L375.04 121.76L366.84 121.76Z"/><path d="M374.43 108.37L378.53 115.47L370.33 115.47Z"/><path d="M377.91 101.53L382.01 108.63L373.81 108.63Z"/><path d="M381.40 95.58L385.50 102.68L377.30 102.68Z"/><path d="M384.88 91.04L388.98 98.14L380.78 98.14Z"/><path d="M388.37 86.89L392.47 93.99L384.27 93.99Z"/><path d="M391.85 82.90L395.95 90.00L387.75 90.00Z"/><path d="M397.10 76.95L401.20 84.05L393.00 84.05Z"/><path d="M407.40 65.65L411.50 72.75L403.30 72.75Z"/><path d="M418.40 58.55L422.50 65.65L414.30 65.65Z"/><path d="M429.80 52.95L433.90 60.05L425.70 60.05Z"/><path d="M441.70 45.95L445.80 53.05L437.60 53.05Z"/><path d="M454.20 42.45L458.30 49.55L450.10 49.55Z"/><path d="M466.00 38.75L470.10 45.85L461.90 45.85Z"/><path d="M477.00 36.75L481.10 43.85L472.90 43.85Z"/><path d="M489.00 33.75L493.10 40.85L484.90 40.85Z"/><path d="M500.10 29.75L504.20 36.85L496.00 36.85Z"/><path d="M511.20 27.75L515.30 34.85L507.10 34.85Z"/><path d="M523.30 24.65L527.40 31.75L519.20 31.75Z"/><path d="M534.40 23.65L538.50 30.75L530.30 30.75Z"/><path d="M546.50 22.25L550.60 29.35L542.40 29.35Z"/><path d="M558.00 19.65L562.10 26.75L553.90 26.75Z"/><path d="M569.70 17.65L573.80 24.75L565.60 24.75Z"/><path d="M580.80 16.65L584.90 23.75L576.70 23.75Z"/><path d="M591.80 15.65L595.90 22.75L587.70 22.75Z"/><path d="M603.90 14.95L608.00 22.05L599.80 22.05Z"/><path d="M615.00 14.95L619.10 22.05L610.90 22.05Z"/><path d="M626.50 13.95L630.60 21.05L622.40 21.05Z"/></g>
<path d="M357.00 159.00L358.74 151.37L360.49 140.11L362.23 126.75L363.97 119.27L365.71 114.21L367.46 109.69L369.20 104.40L370.94 99.16L372.68 94.70L374.43 91.44L376.17 89.01L377.91 87.01L379.65 85.37L381.40 83.55L383.14 81.39L384.88 78.92L386.62 75.92L388.37 73.19L390.11 70.86L391.85 69.52L396.00 69.20L401.30 60.10L407.30 57.10L413.40 53.10L424.50 53.10L436.70 44.80L447.80 41.30L459.90 42.30L471.00 36.30L482.00 34.30L494.10 34.30L505.50 24.60L516.80 31.30L528.30 29.20L539.80 22.20L551.90 23.20L563.20 24.20L575.10 17.10L586.80 22.20L597.90 22.20L609.60 15.70L621.00 22.20L632.50 18.50" fill="none" stroke="#72b43a" stroke-width="1.1" stroke-dasharray="1 3" stroke-linecap="butt"/>
<g fill="#72b43a"><path d="M357.00 155.60L357.91 158.15L360.61 158.23L358.47 159.88L359.23 162.47L357.00 160.95L354.77 162.47L355.53 159.88L353.39 158.23L356.09 158.15Z"/><path d="M358.74 147.97L359.65 150.52L362.36 150.60L360.22 152.25L360.98 154.85L358.74 153.32L356.51 154.85L357.27 152.25L355.13 150.60L357.83 150.52Z"/><path d="M360.49 136.71L361.40 139.25L364.10 139.33L361.96 140.99L362.72 143.58L360.49 142.06L358.25 143.58L359.01 140.99L356.87 139.33L359.57 139.25Z"/><path d="M362.23 123.35L363.14 125.90L365.84 125.98L363.70 127.63L364.46 130.23L362.23 128.70L359.99 130.23L360.75 127.63L358.61 125.98L361.32 125.90Z"/><path d="M363.97 115.87L364.88 118.42L367.58 118.50L365.44 120.15L366.20 122.75L363.97 121.22L361.74 122.75L362.50 120.15L360.36 118.50L363.06 118.42Z"/><path d="M365.71 110.81L366.62 113.35L369.33 113.43L367.19 115.09L367.95 117.68L365.71 116.16L363.48 117.68L364.24 115.09L362.10 113.43L364.80 113.35Z"/><path d="M367.46 106.29L368.37 108.84L371.07 108.92L368.93 110.57L369.69 113.16L367.46 111.64L365.22 113.16L365.98 110.57L363.84 108.92L366.54 108.84Z"/><path d="M369.20 101.00L370.11 103.55L372.81 103.63L370.67 105.28L371.43 107.88L369.20 106.35L366.96 107.88L367.72 105.28L365.58 103.63L368.29 103.55Z"/><path d="M370.94 95.76L371.85 98.31L374.55 98.39L372.41 100.04L373.17 102.63L370.94 101.11L368.71 102.63L369.47 100.04L367.33 98.39L370.03 98.31Z"/><path d="M372.68 91.30L373.59 93.84L376.30 93.92L374.16 95.57L374.92 98.17L372.68 96.65L370.45 98.17L371.21 95.57L369.07 93.92L371.77 93.84Z"/><path d="M374.43 88.04L375.34 90.58L378.04 90.66L375.90 92.32L376.66 94.91L374.43 93.39L372.19 94.91L372.95 92.32L370.81 90.66L373.51 90.58Z"/><path d="M376.17 85.61L377.08 88.16L379.78 88.24L377.64 89.89L378.40 92.48L376.17 90.96L373.93 92.48L374.69 89.89L372.55 88.24L375.26 88.16Z"/><path d="M377.91 83.61L378.82 86.16L381.52 86.24L379.38 87.89L380.14 90.49L377.91 88.96L375.68 90.49L376.44 87.89L374.30 86.24L377.00 86.16Z"/><path d="M379.65 81.97L380.56 84.51L383.27 84.59L381.13 86.25L381.89 88.84L379.65 87.32L377.42 88.84L378.18 86.25L376.04 84.59L378.74 84.51Z"/><path d="M381.40 80.15L382.31 82.69L385.01 82.77L382.87 84.43L383.63 87.02L381.40 85.50L379.16 87.02L379.92 84.43L377.78 82.77L380.48 82.69Z"/><path d="M383.14 77.99L384.05 80.53L386.75 80.61L384.61 82.27L385.37 84.86L383.14 83.34L380.90 84.86L381.66 82.27L379.52 80.61L382.23 80.53Z"/><path d="M384.88 75.52L385.79 78.06L388.49 78.14L386.35 79.80L387.11 82.39L384.88 80.87L382.65 82.39L383.41 79.80L381.27 78.14L383.97 78.06Z"/><path d="M386.62 72.52L387.53 75.06L390.24 75.14L388.10 76.80L388.86 79.39L386.62 77.87L384.39 79.39L385.15 76.80L383.01 75.14L385.71 75.06Z"/><path d="M388.37 69.79L389.28 72.33L391.98 72.41L389.84 74.07L390.60 76.66L388.37 75.14L386.13 76.66L386.89 74.07L384.75 72.41L387.45 72.33Z"/><path d="M390.11 67.46L391.02 70.01L393.72 70.09L391.58 71.74L392.34 74.34L390.11 72.81L387.87 74.34L388.63 71.74L386.49 70.09L389.20 70.01Z"/><path d="M391.85 66.12L392.76 68.66L395.47 68.74L393.33 70.39L394.08 72.99L391.85 71.47L389.62 72.99L390.38 70.39L388.24 68.74L390.94 68.66Z"/><path d="M396.00 65.80L396.91 68.35L399.61 68.43L397.47 70.08L398.23 72.67L396.00 71.15L393.77 72.67L394.53 70.08L392.39 68.43L395.09 68.35Z"/><path d="M401.30 56.70L402.21 59.25L404.91 59.33L402.77 60.98L403.53 63.57L401.30 62.05L399.07 63.57L399.83 60.98L397.69 59.33L400.39 59.25Z"/><path d="M407.30 53.70L408.21 56.25L410.91 56.33L408.77 57.98L409.53 60.57L407.30 59.05L405.07 60.57L405.83 57.98L403.69 56.33L406.39 56.25Z"/><path d="M413.40 49.70L414.31 52.25L417.01 52.33L414.87 53.98L415.63 56.57L413.40 55.05L411.17 56.57L411.93 53.98L409.79 52.33L412.49 52.25Z"/><path d="M424.50 49.70L425.41 52.25L428.11 52.33L425.97 53.98L426.73 56.57L424.50 55.05L422.27 56.57L423.03 53.98L420.89 52.33L423.59 52.25Z"/><path d="M436.70 41.40L437.61 43.95L440.31 44.03L438.17 45.68L438.93 48.27L436.70 46.75L434.47 48.27L435.23 45.68L433.09 44.03L435.79 43.95Z"/><path d="M447.80 37.90L448.71 40.45L451.41 40.53L449.27 42.18L450.03 44.77L447.80 43.25L445.57 44.77L446.33 42.18L444.19 40.53L446.89 40.45Z"/><path d="M459.90 38.90L460.81 41.45L463.51 41.53L461.37 43.18L462.13 45.77L459.90 44.25L457.67 45.77L458.43 43.18L456.29 41.53L458.99 41.45Z"/><path d="M471.00 32.90L471.91 35.45L474.61 35.53L472.47 37.18L473.23 39.77L471.00 38.25L468.77 39.77L469.53 37.18L467.39 35.53L470.09 35.45Z"/><path d="M482.00 30.90L482.91 33.45L485.61 33.53L483.47 35.18L484.23 37.77L482.00 36.25L479.77 37.77L480.53 35.18L478.39 33.53L481.09 33.45Z"/><path d="M494.10 30.90L495.01 33.45L497.71 33.53L495.57 35.18L496.33 37.77L494.10 36.25L491.87 37.77L492.63 35.18L490.49 33.53L493.19 33.45Z"/><path d="M505.50 21.20L506.41 23.75L509.11 23.83L506.97 25.48L507.73 28.07L505.50 26.55L503.27 28.07L504.03 25.48L501.89 23.83L504.59 23.75Z"/><path d="M516.80 27.90L517.71 30.45L520.41 30.53L518.27 32.18L519.03 34.77L516.80 33.25L514.57 34.77L515.33 32.18L513.19 30.53L515.89 30.45Z"/><path d="M528.30 25.80L529.21 28.35L531.91 28.43L529.77 30.08L530.53 32.67L528.30 31.15L526.07 32.67L526.83 30.08L524.69 28.43L527.39 28.35Z"/><path d="M539.80 18.80L540.71 21.35L543.41 21.43L541.27 23.08L542.03 25.67L539.80 24.15L537.57 25.67L538.33 23.08L536.19 21.43L538.89 21.35Z"/><path d="M551.90 19.80L552.81 22.35L555.51 22.43L553.37 24.08L554.13 26.67L551.90 25.15L549.67 26.67L550.43 24.08L548.29 22.43L550.99 22.35Z"/><path d="M563.20 20.80L564.11 23.35L566.81 23.43L564.67 25.08L565.43 27.67L563.20 26.15L560.97 27.67L561.73 25.08L559.59 23.43L562.29 23.35Z"/><path d="M575.10 13.70L576.01 16.25L578.71 16.33L576.57 17.98L577.33 20.57L575.10 19.05L572.87 20.57L573.63 17.98L571.49 16.33L574.19 16.25Z"/><path d="M586.80 18.80L587.71 21.35L590.41 21.43L588.27 23.08L589.03 25.67L586.80 24.15L584.57 25.67L585.33 23.08L583.19 21.43L585.89 21.35Z"/><path d="M597.90 18.80L598.81 21.35L601.51 21.43L599.37 23.08L600.13 25.67L597.90 24.15L595.67 25.67L596.43 23.08L594.29 21.43L596.99 21.35Z"/><path d="M609.60 12.30L610.51 14.85L613.21 14.93L611.07 16.58L611.83 19.17L609.60 17.65L607.37 19.17L608.13 16.58L605.99 14.93L608.69 14.85Z"/><path d="M621.00 18.80L621.91 21.35L624.61 21.43L622.47 23.08L623.23 25.67L621.00 24.15L618.77 25.67L619.53 23.08L617.39 21.43L620.09 21.35Z"/><path d="M632.50 15.10L633.41 17.65L636.11 17.73L633.97 19.38L634.73 21.97L632.50 20.45L630.27 21.97L631.03 19.38L628.89 17.73L631.59 17.65Z"/></g>
<path d="M357.00 160.00L360.49 143.57L363.97 130.82L367.46 118.98L370.94 106.14L374.43 100.03L377.91 95.57L381.40 92.60L384.88 89.10L388.37 84.83L391.85 79.69L395.34 76.10L398.82 71.72L407.50 65.50L413.40 60.10L424.50 57.10L430.50 54.10L436.70 46.80L447.80 44.00L459.90 39.30L471.00 37.30L482.00 35.30L494.10 33.30L505.50 29.80L516.80 27.20L528.30 25.80L539.80 24.20L551.90 23.80L563.20 20.20L575.10 19.20L586.80 19.20L597.90 19.20L609.60 16.10L621.00 18.50L632.70 20.20" fill="none" stroke="#e8392a" stroke-width="1.1" stroke-dasharray="1 3" stroke-linecap="butt"/>
<g fill="none" stroke="#e8392a" stroke-width="1.3"><path d="M353.50 156.50L360.50 163.50M353.50 163.50L360.50 156.50"/><path d="M356.99 140.07L363.99 147.07M356.99 147.07L363.99 140.07"/><path d="M360.47 127.32L367.47 134.32M360.47 134.32L367.47 127.32"/><path d="M363.96 115.48L370.96 122.48M363.96 122.48L370.96 115.48"/><path d="M367.44 102.64L374.44 109.64M367.44 109.64L374.44 102.64"/><path d="M370.93 96.53L377.93 103.53M370.93 103.53L377.93 96.53"/><path d="M374.41 92.07L381.41 99.07M374.41 99.07L381.41 92.07"/><path d="M377.90 89.10L384.90 96.10M377.90 96.10L384.90 89.10"/><path d="M381.38 85.60L388.38 92.60M381.38 92.60L388.38 85.60"/><path d="M384.87 81.33L391.87 88.33M384.87 88.33L391.87 81.33"/><path d="M388.35 76.19L395.35 83.19M388.35 83.19L395.35 76.19"/><path d="M391.84 72.60L398.84 79.60M391.84 79.60L398.84 72.60"/><path d="M395.32 68.22L402.32 75.22M395.32 75.22L402.32 68.22"/><path d="M404.00 62.00L411.00 69.00M404.00 69.00L411.00 62.00"/><path d="M409.90 56.60L416.90 63.60M409.90 63.60L416.90 56.60"/><path d="M421.00 53.60L428.00 60.60M421.00 60.60L428.00 53.60"/><path d="M427.00 50.60L434.00 57.60M427.00 57.60L434.00 50.60"/><path d="M433.20 43.30L440.20 50.30M433.20 50.30L440.20 43.30"/><path d="M444.30 40.50L451.30 47.50M444.30 47.50L451.30 40.50"/><path d="M456.40 35.80L463.40 42.80M456.40 42.80L463.40 35.80"/><path d="M467.50 33.80L474.50 40.80M467.50 40.80L474.50 33.80"/><path d="M478.50 31.80L485.50 38.80M478.50 38.80L485.50 31.80"/><path d="M490.60 29.80L497.60 36.80M490.60 36.80L497.60 29.80"/><path d="M502.00 26.30L509.00 33.30M502.00 33.30L509.00 26.30"/><path d="M513.30 23.70L520.30 30.70M513.30 30.70L520.30 23.70"/><path d="M524.80 22.30L531.80 29.30M524.80 29.30L531.80 22.30"/><path d="M536.30 20.70L543.30 27.70M536.30 27.70L543.30 20.70"/><path d="M548.40 20.30L555.40 27.30M548.40 27.30L555.40 20.30"/><path d="M559.70 16.70L566.70 23.70M559.70 23.70L566.70 16.70"/><path d="M571.60 15.70L578.60 22.70M571.60 22.70L578.60 15.70"/><path d="M583.30 15.70L590.30 22.70M583.30 22.70L590.30 15.70"/><path d="M594.40 15.70L601.40 22.70M594.40 22.70L601.40 15.70"/><path d="M606.10 12.60L613.10 19.60M606.10 19.60L613.10 12.60"/><path d="M617.50 15.00L624.50 22.00M617.50 22.00L624.50 15.00"/><path d="M629.20 16.70L636.20 23.70M629.20 23.70L636.20 16.70"/></g></g>
<rect x="47.5" y="0.8" width="280.7" height="208.89999999999998" fill="none" stroke="#2f2f2f" stroke-width="1.2"/>
<path d="M47.70 209.7v-4.5M47.70 0.8v4.5M82.55 209.7v-2.3M82.55 0.8v2.3M117.40 209.7v-4.5M117.40 0.8v4.5M152.25 209.7v-2.3M152.25 0.8v2.3M187.10 209.7v-4.5M187.10 0.8v4.5M221.95 209.7v-2.3M221.95 0.8v2.3M256.81 209.7v-4.5M256.81 0.8v4.5M291.66 209.7v-2.3M291.66 0.8v2.3M326.51 209.7v-4.5M326.51 0.8v4.5M47.5 201.00h4.5M328.2 201.00h-4.5M47.5 121.00h4.5M328.2 121.00h-4.5M47.5 41.00h4.5M328.2 41.00h-4.5M47.5 181.00h2.3M328.2 181.00h-2.3M47.5 161.00h2.3M328.2 161.00h-2.3M47.5 141.00h2.3M328.2 141.00h-2.3M47.5 101.00h2.3M328.2 101.00h-2.3M47.5 81.00h2.3M328.2 81.00h-2.3M47.5 61.00h2.3M328.2 61.00h-2.3M47.5 21.00h2.3M328.2 21.00h-2.3" stroke="#2f2f2f" stroke-width="1.1" fill="none"/>
<rect x="355.8" y="0.8" width="279.59999999999997" height="208.79999999999998" fill="none" stroke="#2f2f2f" stroke-width="1.2"/>
<path d="M355.60 209.6v-4.5M355.60 0.8v4.5M390.31 209.6v-2.3M390.31 0.8v2.3M425.02 209.6v-4.5M425.02 0.8v4.5M459.73 209.6v-2.3M459.73 0.8v2.3M494.44 209.6v-4.5M494.44 0.8v4.5M529.15 209.6v-2.3M529.15 0.8v2.3M563.86 209.6v-4.5M563.86 0.8v4.5M598.57 209.6v-2.3M598.57 0.8v2.3M633.28 209.6v-4.5M633.28 0.8v4.5M355.8 175.60h4.5M635.4 175.60h-4.5M355.8 105.80h4.5M635.4 105.80h-4.5M355.8 35.90h4.5M635.4 35.90h-4.5M355.8 140.70h2.3M635.4 140.70h-2.3M355.8 70.80h2.3M635.4 70.80h-2.3" stroke="#2f2f2f" stroke-width="1.1" fill="none"/>
<text x="41.8" y="205.1" text-anchor="end" font-size="11.5" fill="#3a3a3a" style="stroke:none">0.04</text>
<text x="41.8" y="125.1" text-anchor="end" font-size="11.5" fill="#3a3a3a" style="stroke:none">0.08</text>
<text x="41.8" y="45.1" text-anchor="end" font-size="11.5" fill="#3a3a3a" style="stroke:none">0.12</text>
<text x="640.6" y="179.7" font-size="11.5" fill="#3a3a3a" style="stroke:none">0.04</text>
<text x="640.6" y="109.9" font-size="11.5" fill="#3a3a3a" style="stroke:none">0.08</text>
<text x="640.6" y="40.0" font-size="11.5" fill="#3a3a3a" style="stroke:none">0.12</text>
<text x="47.70" y="228.2" text-anchor="middle" font-size="11.5" fill="#3a3a3a" style="stroke:none">0</text>
<text x="117.40" y="228.2" text-anchor="middle" font-size="11.5" fill="#3a3a3a" style="stroke:none">60</text>
<text x="187.10" y="228.2" text-anchor="middle" font-size="11.5" fill="#3a3a3a" style="stroke:none">120</text>
<text x="256.81" y="228.2" text-anchor="middle" font-size="11.5" fill="#3a3a3a" style="stroke:none">180</text>
<text x="326.51" y="228.2" text-anchor="middle" font-size="11.5" fill="#3a3a3a" style="stroke:none">240</text>
<text x="187.85" y="246.6" text-anchor="middle" font-size="15.1" fill="#333333" style="color:#333333;stroke-width:0.15px">Time / min</text>
<text x="355.60" y="228.2" text-anchor="middle" font-size="11.5" fill="#3a3a3a" style="stroke:none">0</text>
<text x="425.02" y="228.2" text-anchor="middle" font-size="11.5" fill="#3a3a3a" style="stroke:none">60</text>
<text x="494.44" y="228.2" text-anchor="middle" font-size="11.5" fill="#3a3a3a" style="stroke:none">120</text>
<text x="563.86" y="228.2" text-anchor="middle" font-size="11.5" fill="#3a3a3a" style="stroke:none">180</text>
<text x="633.28" y="228.2" text-anchor="middle" font-size="11.5" fill="#3a3a3a" style="stroke:none">240</text>
<text x="495.19" y="246.6" text-anchor="middle" font-size="15.1" fill="#333333" style="color:#333333;stroke-width:0.15px">Time / min</text>
<text transform="translate(11.2 106.2) rotate(-90)" text-anchor="middle" font-size="14.85" fill="#333333" style="color:#333333;stroke-width:0.15px">Absorbance / A.U.</text>
<text transform="translate(684.2 105.2) rotate(-90)" text-anchor="middle" font-size="14.7" fill="#333333" style="color:#333333;stroke-width:0.15px">Absorbance / a.u.</text>
<text x="57" y="21.5" font-size="18.5" font-weight="bold" fill="#000" style="stroke:none">a</text>
<text transform="translate(366.6 21.7) scale(1.1 1)" font-size="18.7" font-weight="bold" fill="#000" style="stroke:none">b</text>
<text x="155.23" y="24.4" font-size="11.5" fill="#e8392a" style="color:#e8392a">pH 8.2</text>
<text x="78.93" y="48.0" font-size="11.5" fill="#72b43a" style="color:#72b43a">pH 7.8</text>
<text x="79.43" y="96.4" font-size="11.5" fill="#000000" style="color:#000000">pH 7.4</text>
<text x="155.23" y="96.2" font-size="11.5" fill="#ef8ac3" style="color:#ef8ac3">pH 7.0</text>
<text x="290.63" y="95.4" font-size="11.5" fill="#e47d16" style="color:#e47d16">pH 6.6</text>
<text x="290.63" y="135.0" font-size="11.5" fill="#8a2ab4" style="color:#8a2ab4">pH 6.2</text>
<text x="290.63" y="164.0" font-size="11.5" fill="#2b78c0" style="color:#2b78c0">pH 5.8</text>
<text x="466.33" y="23.9" font-size="11.5" fill="#e8392a" style="color:#e8392a">pH 8.2</text>
<text x="393.63" y="47.9" font-size="11.5" fill="#72b43a" style="color:#72b43a">pH 7.8</text>
<text x="393.93" y="95.5" font-size="11.5" fill="#000000" style="color:#000000">pH 7.4</text>
<text x="466.33" y="95.8" font-size="11.5" fill="#ef8ac3" style="color:#ef8ac3">pH 7.0</text>
<text x="596.03" y="95.8" font-size="11.5" fill="#e47d16" style="color:#e47d16">pH 6.6</text>
<text x="596.03" y="138.2" font-size="11.5" fill="#8a2ab4" style="color:#8a2ab4">pH 6.2</text>
<text x="596.03" y="163.2" font-size="11.5" fill="#2b78c0" style="color:#2b78c0">pH 5.8</text>
</svg>
</body></html>
